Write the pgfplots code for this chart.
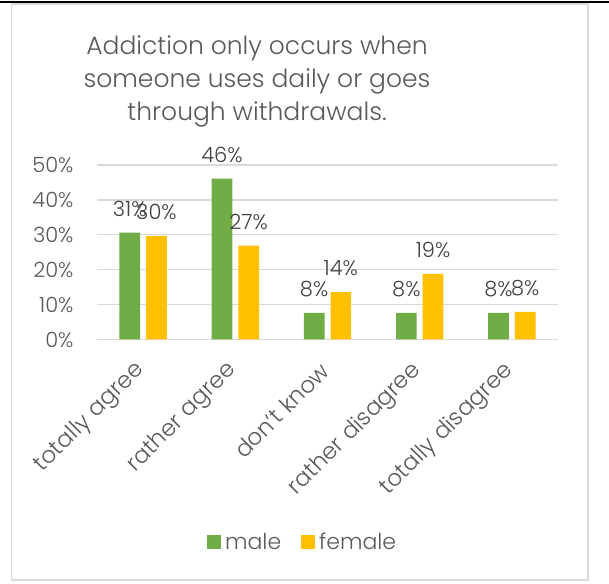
\documentclass[border=0pt]{standalone}
\usepackage{pgfplots}
\pgfplotsset{compat=1.18}
\usepackage{fontspec}
\setmainfont{Poppins}[UprightFont=* Light]
\definecolor{cgreen}{HTML}{70AD47}
\definecolor{cyellow}{HTML}{FFC000}
\definecolor{ctext}{HTML}{595959}
\definecolor{clabel}{HTML}{404040}
\definecolor{cgrid}{HTML}{D9D9D9}
\begin{document}
\begin{tikzpicture}[x=1bp,y=1bp]
\path[use as bounding box] (0,0) rectangle (609,584);
\draw[black, line width=2bp] (0,582) -- (609,582);
\draw[cgrid, line width=1.5bp] (11.5,4) rectangle (588,580);
\node[anchor=base, text=ctext, font=\fontsize{25bp}{29bp}\selectfont] at (257,529) {Addiction only occurs when};
\node[anchor=base, text=ctext, font=\fontsize{25bp}{29bp}\selectfont] at (257,496) {someone uses daily or goes};
\node[anchor=base, text=ctext, font=\fontsize{25bp}{29bp}\selectfont] at (257,463) {through withdrawals.};
\begin{axis}[
  at={(97bp,244.5bp)}, anchor=south west, scale only axis,
  width=461bp, height=174.5bp,
  ybar=6bp, bar width=20.7bp,
  xmin=-0.5, xmax=4.5, ymin=0, ymax=50,
  xtick={0,1,2,3,4},
  xticklabels={totally agree, rather agree, don't know, rather disagree, totally disagree},
  ytick={0,10,20,30,40,50},
  yticklabel={\pgfmathprintnumber{\tick}\%},
  /pgf/number format/assume math mode=true,
  ymajorgrids, grid style={cgrid, line width=1.4bp},
  axis line style={draw=none},
  major tick length=0pt,
  tick label style={text=ctext, font=\fontsize{21bp}{25bp}\selectfont},
  yticklabel style={anchor=east, xshift=-20bp},
  xticklabel style={rotate=45, anchor=east, font=\fontsize{23bp}{27bp}\selectfont},
  xticklabel shift=25bp,
  clip=false,
  nodes near coords={\pgfmathprintnumber[fixed,precision=0]{\pgfplotspointmeta}\%},
  nodes near coords style={text=clabel, font=\fontsize{21bp}{25bp}\selectfont, anchor=center, yshift=24bp},
  legend style={at={(0.446,-1.160)}, anchor=center, draw=none, legend columns=2,
    font=\fontsize{22bp}{26bp}\selectfont, text=ctext,
    /tikz/every odd column/.append style={column sep=2bp},
    /tikz/every even column/.append style={column sep=18bp}},
  legend image code/.code={\fill[#1] (0bp,-7bp) rectangle (14bp,7bp);},
]
\addplot[fill=cgreen, draw=none] coordinates {(0,30.6) (1,46.1) (2,7.6) (3,7.6) (4,7.6)};
\addplot[fill=cyellow, draw=none] coordinates {(0,29.7) (1,26.9) (2,13.6) (3,18.8) (4,7.9)};
\legend{male, female}
\end{axis}
\end{tikzpicture}
\end{document}
